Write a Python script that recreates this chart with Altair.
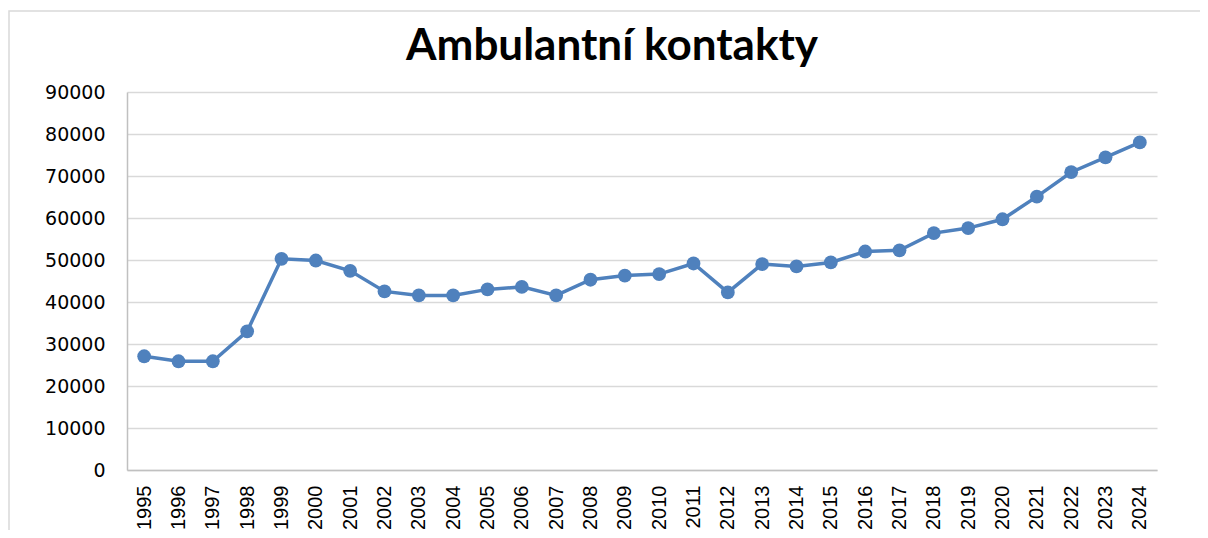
import altair as alt
import pandas as pd

years = [str(y) for y in range(1995, 2025)]
values = [27080, 25890, 25890, 33020, 50290, 49880, 47430, 42520, 41570, 41570,
          43000, 43600, 41570, 45300, 46300, 46650, 49170, 42280, 49030, 48460,
          49410, 52020, 52300, 56400, 57600, 59700, 65080, 70900, 74450, 78000]
y_ticks = list(range(0, 90001, 10000))

df = pd.DataFrame({"year": years, "value": values})

x_enc = alt.X("year:O", sort=years, title=None,
              scale=alt.Scale(type="point", padding=0.5),
              axis=alt.Axis(labelAngle=-90, labelFont="Liberation Sans", labelFontSize=20,
                            labelColor="#000000", ticks=False, labelPadding=15,
                            domainColor="#c0c0c0", domainWidth=1.5, grid=False))
y_enc = alt.Y("value:Q", title=None,
              scale=alt.Scale(domain=[0, 90000], nice=False),
              axis=alt.Axis(values=y_ticks, labelFont="DejaVu Sans", labelFontSize=19,
                            labelColor="#000000", ticks=False, labelPadding=22,
                            domainColor="#c0c0c0", domainWidth=1.5,
                            gridColor="#d9d9d9", gridWidth=1.5, format="d"))

border = alt.Chart(pd.DataFrame({"a": [0]})).mark_rect(
    fill=None, stroke="#d9d9d9", strokeWidth=1.5, clip=False
).encode(x=alt.value(-118), x2=alt.value(1200), y=alt.value(-81), y2=alt.value(500))

line = alt.Chart(df).mark_line(color="#4F81BD", strokeWidth=3.5).encode(x=x_enc, y=y_enc)
pts = alt.Chart(df).mark_point(filled=True, color="#4F81BD", size=190, opacity=1).encode(x=x_enc, y=y_enc)

chart = alt.layer(border, line, pts).properties(
    width=1030, height=378,
    title=alt.TitleParams("Ambulantní kontakty", font="Lato", fontSize=44, fontWeight="bold",
                          color="#000000", anchor="middle", dx=-30, offset=0,
                          baseline="alphabetic", dy=94),
    autosize=alt.AutoSizeParams(type="none"),
    padding={"left": 119, "top": 84, "right": 43, "bottom": 60},
).configure_view(stroke=None)

chart.save("out.html", embed_options={"renderer": "svg", "actions": False})
